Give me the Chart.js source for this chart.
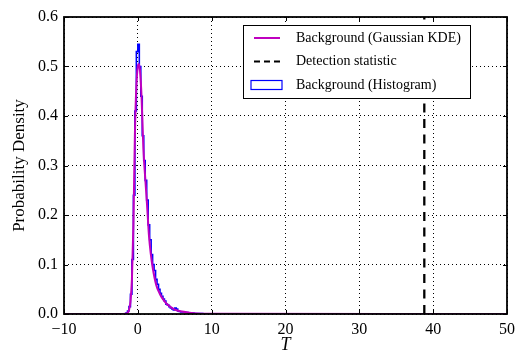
<!DOCTYPE html>
<html>
<head>
<meta charset="utf-8">
<script src="https://cdn.jsdelivr.net/npm/chart.js@4.4.0/dist/chart.umd.min.js"></script>
<style>
html, body { margin: 0; padding: 0; background: #fff; }
#wrap { width: 521px; height: 356px; }
</style>
</head>
<body>
<div id="wrap"><canvas id="myChart" width="521" height="356"></canvas></div>
<script>
// data
const xTicks = [-10, 0, 10, 20, 30, 40, 50];
const yTicks = [0, 0.1, 0.2, 0.3, 0.4, 0.5, 0.6];

// histogram: left bin edges and densities (last edge closes the outline)
const histEdges = [-1.6, -1.4, -1.2, -1.0, -0.8, -0.6, -0.4, -0.2, 0.0, 0.2, 0.4, 0.6, 0.8, 1.0, 1.2, 1.4, 1.6, 1.8,
    2.0, 2.2, 2.4, 2.6, 2.8, 3.0, 3.2, 3.4, 3.6, 3.8, 4.0, 4.2, 4.4, 4.6, 4.8, 5.0, 5.2, 5.4, 5.6, 5.8, 6.0,
    6.4, 6.8, 7.2, 7.6, 8.0, 8.4, 8.8, 9.2];
const histValues = [0.002, 0.006, 0.015, 0.04, 0.11, 0.24, 0.41, 0.53, 0.545, 0.5, 0.44, 0.36, 0.31, 0.27, 0.23, 0.18,
    0.15, 0.12, 0.1, 0.088, 0.07, 0.06, 0.05, 0.042, 0.036, 0.03, 0.026, 0.02, 0.018, 0.015, 0.012, 0.01, 0.008,
    0.012, 0.01, 0.006, 0.005, 0.004, 0.004, 0.003, 0.002, 0.002, 0.001, 0.001, 0.001, 0.0005];

// gaussian KDE curve
const kdeT = [-10, -2, -1.5, -1.2, -1.0, -0.8, -0.6, -0.4, -0.2, 0, 0.15, 0.3, 0.5, 0.75, 1.0, 1.25, 1.5, 1.75,
    2.0, 2.5, 3.0, 3.5, 4.0, 5.0, 6.0, 7.0, 8.0, 9.0, 10, 50];
const kdeValues = [0, 0, 0.001, 0.008, 0.025, 0.07, 0.18, 0.36, 0.46, 0.5, 0.505, 0.49, 0.44, 0.335, 0.275, 0.22,
    0.16, 0.122, 0.095, 0.058, 0.04, 0.028, 0.019, 0.009, 0.005, 0.0025, 0.001, 0.0006, 0.0003, 0];

const detectionStat = 38.8;
const legendLabels = ['Background (Gaussian KDE)', 'Detection statistic', 'Background (Histogram)'];

const histPoints = [{x: histEdges[0], y: 0}];
histValues.forEach((v, i) => histPoints.push({x: histEdges[i], y: v}));
histPoints.push({x: histEdges[histEdges.length - 1], y: 0});

const kdePoints = kdeT.map((t, i) => ({x: t, y: kdeValues[i]}));

const serif = '"Liberation Serif", "DejaVu Serif", serif';

// box + inward ticks, matplotlib style
const framePlugin = {
    id: 'frame',
    afterDatasetsDraw(chart) {
        const {ctx, chartArea: a, scales: {x, y}} = chart;
        ctx.save();
        ctx.strokeStyle = '#000';
        ctx.lineWidth = 1;
        ctx.beginPath();
        xTicks.forEach(t => {
            const px = Math.round(x.getPixelForValue(t)) + 0.5;
            ctx.moveTo(px, a.bottom); ctx.lineTo(px, a.bottom - 4);
            ctx.moveTo(px, a.top); ctx.lineTo(px, a.top + 4);
        });
        yTicks.forEach(t => {
            const py = Math.round(y.getPixelForValue(t)) + 0.5;
            ctx.moveTo(a.left, py); ctx.lineTo(a.left + 4, py);
            ctx.moveTo(a.right, py); ctx.lineTo(a.right - 4, py);
        });
        ctx.stroke();
        ctx.lineWidth = 1.8;
        ctx.strokeRect(a.left, a.top, a.right - a.left, a.bottom - a.top);
        ctx.restore();
    }
};

const legendPlugin = {
    id: 'boxLegend',
    afterDraw(chart) {
        const ctx = chart.ctx;
        const left = 243, top = 25, w = 227, h = 73;
        ctx.save();
        ctx.fillStyle = '#fff';
        ctx.fillRect(left, top, w, h);
        ctx.strokeStyle = '#000';
        ctx.lineWidth = 1;
        ctx.strokeRect(left + 0.5, top + 0.5, w, h);
        const rows = [38, 61.5, 85];
        ctx.font = '14px ' + serif;
        ctx.textBaseline = 'middle';
        ctx.fillStyle = '#000';
        // KDE
        ctx.strokeStyle = '#bf00bf'; ctx.lineWidth = 2;
        ctx.beginPath(); ctx.moveTo(254, rows[0]); ctx.lineTo(280, rows[0]); ctx.stroke();
        // detection
        ctx.strokeStyle = '#000'; ctx.setLineDash([6, 4]);
        ctx.beginPath(); ctx.moveTo(254, rows[1]); ctx.lineTo(280, rows[1]); ctx.stroke();
        ctx.setLineDash([]);
        // histogram
        ctx.strokeStyle = '#0000ff'; ctx.lineWidth = 1.2;
        ctx.strokeRect(251, rows[2] - 4.5, 31, 9);
        legendLabels.forEach((s, i) => ctx.fillText(s, 296, rows[i]));
        ctx.restore();
    }
};

const ctx = document.getElementById('myChart').getContext('2d');
const myChart = new Chart(ctx, {
    type: 'scatter',
    data: {
        datasets: [{
            label: legendLabels[2],
            data: histPoints,
            order: 2,
            showLine: true,
            stepped: true,
            borderColor: '#0000ff',
            borderWidth: 1.6,
            pointRadius: 0
        }, {
            label: legendLabels[0],
            data: kdePoints,
            order: 1,
            showLine: true,
            cubicInterpolationMode: 'monotone',
            borderColor: '#bf00bf',
            borderWidth: 2,
            pointRadius: 0
        }, {
            label: legendLabels[1],
            data: [{x: detectionStat, y: 0}, {x: detectionStat, y: 0.6}],
            order: 0,
            showLine: true,
            borderColor: '#000',
            borderWidth: 2.3,
            borderDash: [9, 6.5],
            pointRadius: 0
        }]
    },
    options: {
        responsive: false,
        animation: false,
        layout: {padding: {left: 0, top: 17, right: 11, bottom: 0}},
        plugins: {legend: {display: false}, tooltip: {enabled: false}},
        scales: {
            x: {
                type: 'linear', min: -10, max: 50,
                afterBuildTicks: s => { s.ticks = xTicks.map(v => ({value: v})); },
                afterFit: s => { s.height = 42; },
                ticks: {
                    color: '#000', padding: 6, maxRotation: 0,
                    font: {family: serif, size: 16},
                    callback: v => (v < 0 ? '\u2212' + Math.abs(v) : '' + v)
                },
                grid: {color: '#000', lineWidth: 1, drawTicks: false},
                border: {display: false, dash: [1, 3]},
                title: {display: true, text: 'T', color: '#000', padding: {top: 3, bottom: 0},
                    font: {family: serif, size: 18, style: 'italic'}}
            },
            y: {
                type: 'linear', min: 0, max: 0.6,
                afterBuildTicks: s => { s.ticks = yTicks.map(v => ({value: v})); },
                afterFit: s => { s.width = 64; },
                ticks: {
                    color: '#000', padding: 6,
                    font: {family: serif, size: 16},
                    callback: v => v.toFixed(1)
                },
                grid: {color: '#000', lineWidth: 1, drawTicks: false},
                border: {display: false, dash: [1, 3]},
                title: {display: true, text: 'Probability Density', color: '#000', padding: {top: 9, bottom: 0},
                    font: {family: serif, size: 17}}
            }
        }
    },
    plugins: [framePlugin, legendPlugin]
});
</script>
</body>
</html>
